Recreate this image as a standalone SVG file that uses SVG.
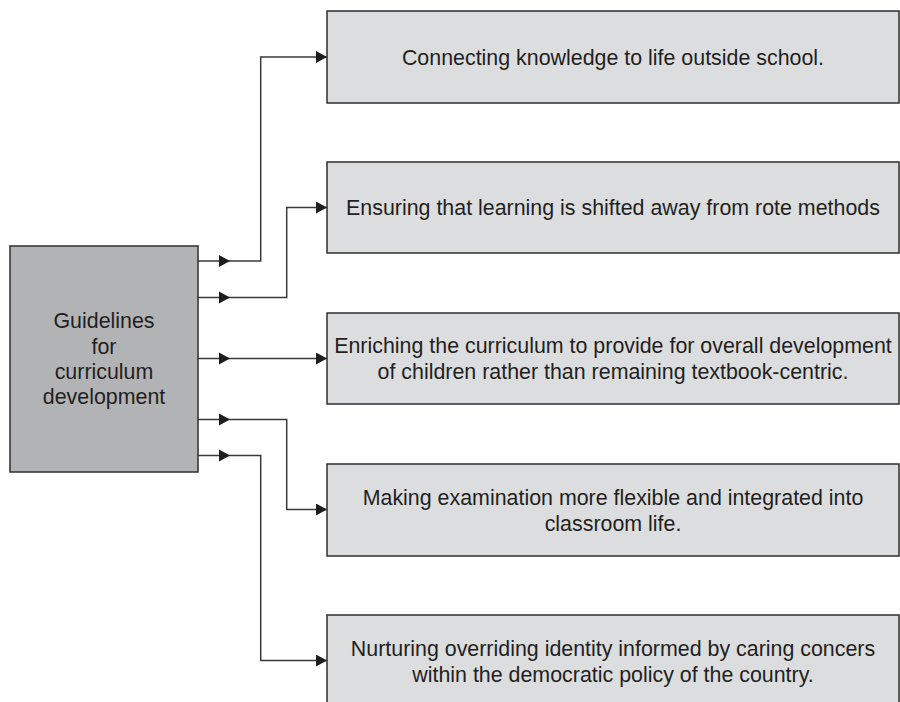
<svg xmlns="http://www.w3.org/2000/svg" xmlns:xlink="http://www.w3.org/1999/xlink" width="900" height="702" viewBox="0 0 900 702">
  <style>
    .src { fill: #b2b3b5; stroke: #2e2e2e; stroke-width: 1.5; }
    .box { fill: #dcdddf; stroke: #2e2e2e; stroke-width: 1.5; }
    .txt { font-family: "Liberation Sans", Arial, sans-serif; font-size: 21.4px; fill: #231f20; text-anchor: middle; }
    .conn { fill: none; stroke: #3a3a3a; stroke-width: 1.5; }
    .head { fill: #1e1e1e; }
  </style>
  <defs>
    <marker id="arrow" viewBox="0 0 11 12" refX="11" refY="6" markerWidth="11" markerHeight="12" markerUnits="userSpaceOnUse" orient="auto">
      <path d="M0,0 L11,6 L0,12 Z" fill="#1e1e1e"/>
    </marker>
    <path id="ah" class="head" d="M-11,-6 L0,0 L-11,6 Z"/>
  </defs>
  <rect width="900" height="702" fill="#ffffff"/>

  <g id="connectors">
    <path class="conn" d="M198,261 H260.7 V57 H327" marker-end="url(#arrow)"/>
    <path class="conn" d="M198,297.5 H286.7 V207.5 H327" marker-end="url(#arrow)"/>
    <path class="conn" d="M198,358.5 H327" marker-end="url(#arrow)"/>
    <path class="conn" d="M198,419.5 H286.7 V509.5 H327" marker-end="url(#arrow)"/>
    <path class="conn" d="M198,455.5 H260.7 V660.5 H327" marker-end="url(#arrow)"/>
    <use xlink:href="#ah" x="230" y="261"/>
    <use xlink:href="#ah" x="230" y="297.5"/>
    <use xlink:href="#ah" x="230" y="358.5"/>
    <use xlink:href="#ah" x="230" y="419.5"/>
    <use xlink:href="#ah" x="230" y="455.5"/>
  </g>

  <g id="guidelines">
    <rect class="src" x="10" y="246" width="188" height="226"/>
    <text class="txt" x="104" y="327.5">Guidelines</text>
    <text class="txt" x="104" y="354">for</text>
    <text class="txt" x="104" y="379">curriculum</text>
    <text class="txt" x="104" y="404">development</text>
  </g>

  <g id="connecting">
    <rect class="box" x="327" y="11" width="572" height="92"/>
    <text class="txt" x="613" y="64.5">Connecting knowledge to life outside school.</text>
  </g>

  <g id="ensuring">
    <rect class="box" x="327" y="162" width="572" height="91"/>
    <text class="txt" x="613" y="215">Ensuring that learning is shifted away from rote methods</text>
  </g>

  <g id="enriching">
    <rect class="box" x="327" y="313" width="572" height="91"/>
    <text class="txt" x="613" y="353">Enriching the curriculum to provide for overall development</text>
    <text class="txt" x="613" y="379">of children rather than remaining textbook-centric.</text>
  </g>

  <g id="making">
    <rect class="box" x="327" y="464" width="572" height="92"/>
    <text class="txt" x="613" y="504.5">Making examination more flexible and integrated into</text>
    <text class="txt" x="613" y="530.5">classroom life.</text>
  </g>

  <g id="nurturing">
    <rect class="box" x="327" y="615" width="572" height="92"/>
    <text class="txt" x="613" y="655.5">Nurturing overriding identity informed by caring concers</text>
    <text class="txt" x="613" y="681.5">within the democratic policy of the country.</text>
  </g>
</svg>
